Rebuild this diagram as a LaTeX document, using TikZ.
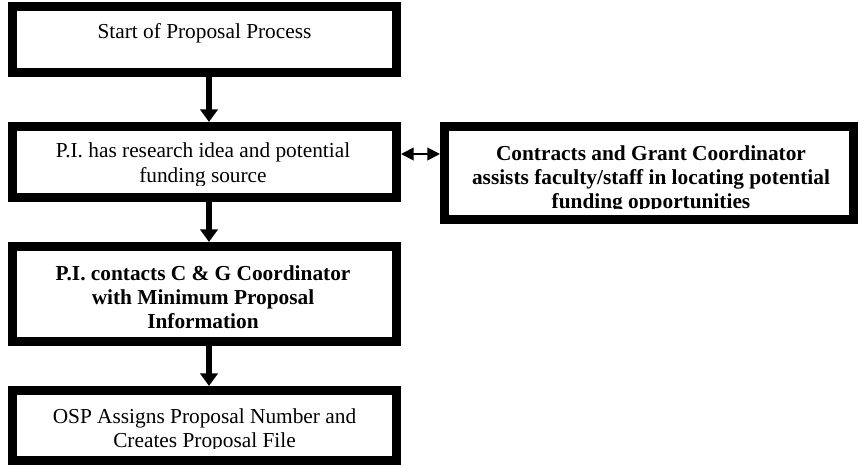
\documentclass[tikz,border=0pt]{standalone}
\usepackage{fontspec}
\setmainfont{Liberation Serif}
\usetikzlibrary{arrows.meta,fit}
\tikzset{
  box/.style={draw=black, line width=6.4pt, inner sep=0pt, fill=white},
  txt/.style={anchor=base, inner sep=0pt, font=\fontsize{16}{18.3}\selectfont},
  flow/.style={line width=5.2pt, -{Triangle[width=13pt,length=9.5pt]}},
  link/.style={line width=1.5pt, {Triangle[width=9.5pt,length=9.5pt]}-{Triangle[width=9.5pt,length=9.5pt]}}
}
\newcommand{\lines}[1]{\parbox[t]{330pt}{\centering #1}}
\begin{document}
\begin{tikzpicture}[x=0.75pt,y=-0.75pt]
\useasboundingbox (0,0) rectangle (859,465);
% boxes
\node[box, fit={(12.25,6.25) (396.75,72.75)}] (b1) {};
\node[box, fit={(12.25,126.25) (396.75,197.75)}] (b2) {};
\node[box, fit={(12.25,246.25) (396.75,341.75)}] (b3) {};
\node[box, fit={(12.25,390.25) (396.75,460.75)}] (b4) {};
\node[box, fit={(444.25,126.25) (853.75,219.75)}] (rb) {};
% texts
\node[txt] (t1) at (204.5,38.3) {\lines{Start of Proposal Process}};
\begin{scope}
\clip (0,0) rectangle (420,185.5);
\node[txt] (t2) at (203,157.7) {\lines{P.I. has research idea and potential\\funding source}};
\end{scope}
\node[txt] (t3) at (203,280) {\lines{\bfseries P.I. contacts C \& G Coordinator\\with Minimum Proposal\\Information}};
\begin{scope}
\clip (0,0) rectangle (420,448);
\node[txt] (t4) at (204.5,423.3) {\lines{OSP Assigns Proposal Number and\\Creates Proposal File}};
\end{scope}
\begin{scope}
\clip (430,0) rectangle (859,208.7);
\node[txt] (t5) at (651,160) {\lines{\bfseries Contracts and Grant Coordinator\\assists faculty/staff in locating potential\\funding opportunities}};
\end{scope}
% connectors
\coordinate (ax) at (209,0);
\coordinate (ay) at (0,154);
\draw[flow] (b1.south -| ax) -- (b2.north -| ax);
\draw[flow] (b2.south -| ax) -- (b3.north -| ax);
\draw[flow] (b3.south -| ax) -- (b4.north -| ax);
\draw[link] (b2.east |- ay) -- (rb.west |- ay);
\end{tikzpicture}
\end{document}
